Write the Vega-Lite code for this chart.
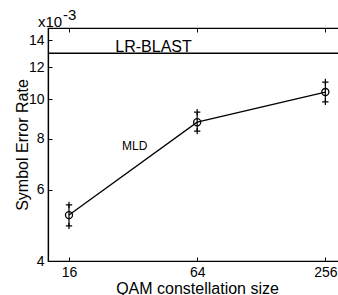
{
  "$schema": "https://vega.github.io/schema/vega-lite/v6.json",
  "autosize": {"type": "none"},
  "padding": {"left": 48, "top": 28, "right": 0, "bottom": 34},
  "width": 298,
  "height": 233,
  "background": "white",
  "config": {
    "view": {"stroke": "black", "strokeWidth": 1.2},
    "axis": {
      "domainColor": "black", "domainWidth": 1.2, "tickColor": "black", "tickWidth": 1,
      "labelColor": "black", "titleColor": "black",
      "labelFont": "Liberation Sans", "titleFont": "Liberation Sans",
      "labelFontSize": 14, "titleFontSize": 16, "titleFontWeight": "normal",
      "grid": false, "tickSize": -4, "labelPadding": 8
    },
    "text": {"font": "Liberation Sans", "color": "black"}
  },
  "resolve": {"axis": {"x": "independent"}},
  "datasets": {
    "mld": [
      {"size": 16, "ser": 5.19, "low": 4.88, "high": 5.50},
      {"size": 64, "ser": 8.79, "low": 8.36, "high": 9.31},
      {"size": 256, "ser": 10.43, "low": 9.87, "high": 11.04}
    ],
    "blast": [{"ser": 13.0}],
    "labels": [
      {"label": "LR-BLAST", "size": 26.4, "ser": 13.0, "fs": 16},
      {"label": "MLD", "size": 28.4, "ser": 7.46, "fs": 12}
    ],
    "exp": [{"size": 12.75, "ser": 15.0}]
  },
  "layer": [
    {
      "data": {"name": "blast"},
      "mark": {"type": "rule", "color": "black", "strokeWidth": 1.3},
      "encoding": {
        "y": {"field": "ser", "type": "quantitative",
          "scale": {"type": "log", "domain": [4, 15], "nice": false},
          "axis": {"values": [4, 6, 8, 10, 12, 14], "format": "d", "title": "Symbol Error Rate", "titlePadding": -2}}
      }
    },
    {
      "data": {"name": "mld"},
      "mark": {"type": "line", "color": "black", "strokeWidth": 1.3},
      "encoding": {
        "x": {"field": "size", "type": "quantitative",
          "scale": {"type": "log", "base": 2, "domain": [12.75, 320], "nice": false},
          "axis": {"values": [16, 64, 256], "format": "d", "title": "QAM constellation size", "titlePadding": 1}},
        "y": {"field": "ser", "type": "quantitative"}
      }
    },
    {
      "data": {"name": "mld"},
      "mark": {"type": "rule", "color": "black", "strokeWidth": 1.2},
      "encoding": {
        "x": {"field": "size", "type": "quantitative", "axis": null},
        "y": {"field": "low", "type": "quantitative"},
        "y2": {"field": "high"}
      }
    },
    {
      "data": {"name": "mld"},
      "mark": {"type": "point", "shape": "M -1 0 L 1 0 M 0 -1 L 0 1", "size": 40, "filled": false, "color": "black", "strokeWidth": 1.2, "opacity": 1},
      "encoding": {
        "x": {"field": "size", "type": "quantitative", "axis": null},
        "y": {"field": "low", "type": "quantitative"}
      }
    },
    {
      "data": {"name": "mld"},
      "mark": {"type": "point", "shape": "M -1 0 L 1 0 M 0 -1 L 0 1", "size": 40, "filled": false, "color": "black", "strokeWidth": 1.2, "opacity": 1},
      "encoding": {
        "x": {"field": "size", "type": "quantitative", "axis": null},
        "y": {"field": "high", "type": "quantitative"}
      }
    },
    {
      "data": {"name": "mld"},
      "mark": {"type": "point", "shape": "circle", "size": 50, "filled": false, "color": "black", "strokeWidth": 1.3, "opacity": 1},
      "encoding": {
        "x": {"field": "size", "type": "quantitative", "axis": null},
        "y": {"field": "ser", "type": "quantitative"}
      }
    },
    {
      "data": {"name": "labels"},
      "mark": {"type": "text", "align": "left", "baseline": "alphabetic", "dy": -1},
      "encoding": {
        "x": {"field": "size", "type": "quantitative", "axis": null},
        "y": {"field": "ser", "type": "quantitative"},
        "text": {"field": "label"},
        "size": {"field": "fs", "type": "quantitative", "scale": null}
      }
    },
    {
      "data": {"name": "exp"},
      "mark": {"type": "text", "align": "left", "baseline": "alphabetic", "dx": -10, "dy": -1, "fontSize": 15, "clip": false},
      "encoding": {
        "x": {"field": "size", "type": "quantitative",
          "axis": {"orient": "top", "values": [16, 64, 256], "labels": false, "domain": false, "title": null}},
        "y": {"field": "ser", "type": "quantitative"},
        "text": {"value": "x10"}
      }
    },
    {
      "data": {"name": "exp"},
      "mark": {"type": "text", "align": "left", "baseline": "alphabetic", "dx": 15, "dy": -8, "fontSize": 15, "clip": false},
      "encoding": {
        "x": {"field": "size", "type": "quantitative", "axis": null},
        "y": {"field": "ser", "type": "quantitative"},
        "text": {"value": "-3"}
      }
    }
  ]
}
